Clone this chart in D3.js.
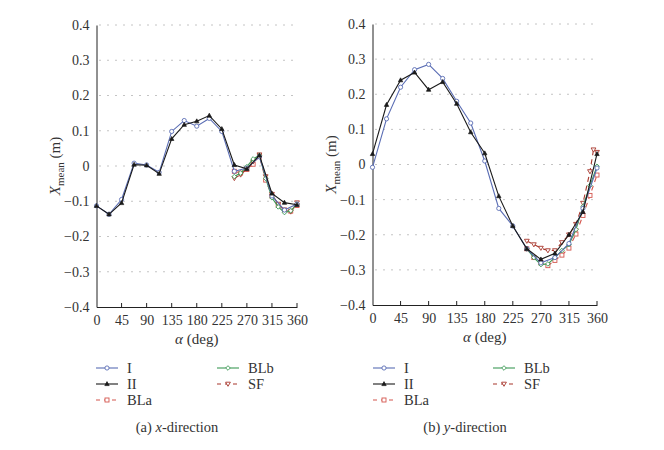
<!DOCTYPE html>
<html><head><meta charset="utf-8">
<script src="https://cdn.jsdelivr.net/npm/d3@7"></script>
<style>body{margin:0;background:#fff;} svg{display:block;}</style>
</head><body>
<svg id="chart" width="664" height="450"></svg>
<script>
// ---- Data ----
const xTicks = [0, 45, 90, 135, 180, 225, 270, 315, 360];
const yTicks = [-0.4, -0.3, -0.2, -0.1, 0, 0.1, 0.2, 0.3, 0.4];
const yTickLabels = ["\u22120.4", "\u22120.3", "\u22120.2", "\u22120.1", "0", "0.1", "0.2", "0.3", "0.4"];
const seriesNames = ["I", "II", "BLa", "BLb", "SF"];

const anglesMain = [0, 22.5, 45, 67.5, 90, 112.5, 135, 157.5, 180, 202.5, 225, 247.5, 270, 292.5, 315, 337.5, 360];
const anglesBL = [247.5, 258.75, 270, 281.25, 292.5, 303.75, 315, 326.25, 337.5, 348.75, 360];
const anglesSFy = [247.5, 258.75, 270, 281.25, 292.5, 303.75, 315, 326.25, 337.5, 348.75, 354.375, 360];

// (a) x-direction
const xdir_I   = [-0.113, -0.137, -0.095, 0.008, 0.003, -0.018, 0.098, 0.129, 0.113, 0.135, 0.098, -0.015, -0.006, 0.026, -0.085, -0.125, -0.108];
const xdir_II  = [-0.113, -0.137, -0.105, 0.004, 0.002, -0.022, 0.077, 0.117, 0.127, 0.143, 0.105, 0.003, -0.008, 0.030, -0.078, -0.104, -0.110];
const xdir_BLa = [-0.015, -0.020, -0.010, 0.005, 0.028, -0.040, -0.085, -0.112, -0.125, -0.128, -0.112];
const xdir_BLb = [-0.030, -0.020, -0.002, 0.020, 0.030, -0.035, -0.090, -0.116, -0.132, -0.127, -0.108];
const xdir_SF  = [-0.035, -0.025, -0.008, 0.012, 0.032, -0.030, -0.080, -0.108, -0.125, -0.130, -0.104];

// (b) y-direction
const ydir_I   = [-0.008, 0.130, 0.220, 0.270, 0.285, 0.245, 0.180, 0.118, 0.010, -0.125, -0.175, -0.240, -0.280, -0.265, -0.225, -0.125, -0.010];
const ydir_II  = [0.030, 0.170, 0.240, 0.262, 0.213, 0.235, 0.173, 0.092, 0.032, -0.090, -0.175, -0.240, -0.270, -0.253, -0.200, -0.135, 0.030];
const ydir_BLa = [-0.240, -0.265, -0.280, -0.288, -0.273, -0.258, -0.238, -0.198, -0.145, -0.088, -0.030];
const ydir_BLb = [-0.240, -0.265, -0.285, -0.283, -0.265, -0.245, -0.228, -0.185, -0.120, -0.060, -0.005];
const ydir_SF  = [-0.218, -0.228, -0.238, -0.245, -0.245, -0.222, -0.200, -0.170, -0.110, -0.020, 0.042, 0.035];

// ---- Styles ----
const styles = {
  "I":   {color: "#5a6db4", dash: null,  marker: "circle"},
  "II":  {color: "#1a1a1a", dash: null,  marker: "triangle"},
  "BLa": {color: "#d4564e", dash: "5,4", marker: "square"},
  "BLb": {color: "#3d9a56", dash: null,  marker: "diamond"},
  "SF":  {color: "#a8372c", dash: "5,4", marker: "triangleDown"}
};
const serif = "'Liberation Serif', 'DejaVu Serif', serif";
const svg = d3.select("#chart");

function marker(g, type, x, y, color) {
  const s = 2.3;
  if (type === "circle") {
    g.append("circle").attr("cx", x).attr("cy", y).attr("r", 2.1)
      .attr("fill", "#fff").attr("stroke", color).attr("stroke-width", 0.9);
  } else if (type === "triangle") {
    g.append("path").attr("d", `M${x},${y-2.4}L${x+2.2},${y+1.6}L${x-2.2},${y+1.6}Z`)
      .attr("fill", color).attr("stroke", color).attr("stroke-width", 0.7);
  } else if (type === "square") {
    g.append("rect").attr("x", x-2).attr("y", y-2).attr("width", 4).attr("height", 4)
      .attr("fill", "#fff").attr("stroke", color).attr("stroke-width", 0.9);
  } else if (type === "diamond") {
    g.append("path").attr("d", `M${x},${y-s}L${x+s},${y}L${x},${y+s}L${x-s},${y}Z`)
      .attr("fill", "#fff").attr("stroke", color).attr("stroke-width", 0.9);
  } else if (type === "triangleDown") {
    g.append("path").attr("d", `M${x-2.4},${y-1.8}L${x+2.4},${y-1.8}L${x},${y+2.3}Z`)
      .attr("fill", "#fff").attr("stroke", color).attr("stroke-width", 0.9);
  }
}

function panel(opts) {
  const {left, right, top, bottom, series, caption, dirLetter, legendX1, legendX2, labelX} = opts;
  const x = d3.scaleLinear().domain([0, 360]).range([left, right]);
  const y = d3.scaleLinear().domain([-0.4, 0.4]).range([bottom, top]);
  const g = svg.append("g");

  // gridlines
  g.selectAll(".grid").data(yTicks.filter(v => v > -0.4)).enter().append("line")
    .attr("x1", left + 3).attr("x2", right)
    .attr("y1", d => y(d)).attr("y2", d => y(d))
    .attr("stroke", "#888").attr("stroke-width", 1).attr("stroke-dasharray", "1,7");

  // y axis
  const yAxis = d3.axisLeft(y).tickValues(yTicks).tickSize(0).tickPadding(7)
    .tickFormat((d, i) => yTickLabels[i]);
  const ya = g.append("g").attr("transform", `translate(${left},0)`).call(yAxis);
  ya.select(".domain").attr("stroke", "#222").attr("stroke-width", 1);
  ya.selectAll("text").attr("font-family", serif).attr("font-size", 14).attr("fill", "#333");

  // x axis
  const xAxis = d3.axisBottom(x).tickValues(xTicks).tickSize(0).tickPadding(8).tickFormat(d3.format("d"));
  const xa = g.append("g").attr("transform", `translate(0,${bottom})`).call(xAxis);
  xa.select(".domain").attr("stroke", "#222").attr("stroke-width", 1);
  xa.selectAll("text").attr("font-family", serif).attr("font-size", 14).attr("fill", "#333");
  g.selectAll(".xt").data(xTicks.slice(1)).enter().append("line")
    .attr("x1", d => x(d)).attr("x2", d => x(d)).attr("y1", bottom).attr("y2", bottom - 4)
    .attr("stroke", "#222").attr("stroke-width", 1);

  // axis titles
  const yl = g.append("text").attr("transform", `translate(${labelX},${(top + bottom) / 2}) rotate(-90)`)
    .attr("text-anchor", "middle").attr("font-family", serif).attr("font-size", 15).attr("fill", "#333");
  yl.append("tspan").attr("font-style", "italic").text("X");
  yl.append("tspan").attr("font-size", 11).attr("dy", 4).text("mean");
  yl.append("tspan").attr("dy", -4).text(" (m)");

  const xl = g.append("text").attr("x", (left + right) / 2).attr("y", bottom + 37)
    .attr("text-anchor", "middle").attr("font-family", serif).attr("font-size", 15).attr("fill", "#333");
  xl.append("tspan").attr("font-style", "italic").text("\u03b1");
  xl.append("tspan").text(" (deg)");

  // series
  const line = d3.line().x(d => x(d[0])).y(d => y(d[1]));
  const order = ["BLa", "SF", "BLb", "I", "II"];
  order.forEach(name => {
    const s = series[name];
    const st = styles[name];
    const pts = s.angles.map((a, i) => [a, s.values[i]]);
    g.append("path").datum(pts).attr("d", line).attr("fill", "none")
      .attr("stroke", st.color).attr("stroke-width", 1.1)
      .attr("stroke-dasharray", st.dash);
    const mg = g.append("g");
    pts.forEach(p => marker(mg, st.marker, x(p[0]), y(p[1]), st.color));
  });

  // legend
  const rows = [["I", legendX1, 0], ["II", legendX1, 1], ["BLa", legendX1, 2], ["BLb", legendX2, 0], ["SF", legendX2, 1]];
  rows.forEach(([name, lx, r]) => {
    const st = styles[name];
    const ly = 368 + r * 16;
    g.append("line").attr("x1", lx).attr("x2", lx + 22).attr("y1", ly).attr("y2", ly)
      .attr("stroke", st.color).attr("stroke-width", 1.1).attr("stroke-dasharray", st.dash ? "4,4" : null);
    marker(g, st.marker, lx + 11, ly, st.color);
    g.append("text").attr("x", lx + 31).attr("y", ly + 5).attr("font-family", serif)
      .attr("font-size", 14.5).attr("fill", "#333").text(name);
  });

  // caption
  const cap = g.append("text").attr("x", opts.captionX).attr("y", 432).attr("text-anchor", "middle")
    .attr("font-family", serif).attr("font-size", 14.5).attr("fill", "#333");
  cap.append("tspan").text(caption + "  ");
  cap.append("tspan").attr("font-style", "italic").text(dirLetter);
  cap.append("tspan").text("-direction");
}

function mk(I, II, BLa, BLb, SF, sfAngles) {
  return {
    "I": {angles: anglesMain, values: I},
    "II": {angles: anglesMain, values: II},
    "BLa": {angles: anglesBL, values: BLa},
    "BLb": {angles: anglesBL, values: BLb},
    "SF": {angles: sfAngles, values: SF}
  };
}

panel({left: 96.5, right: 297, top: 25, bottom: 307,
  series: mk(xdir_I, xdir_II, xdir_BLa, xdir_BLb, xdir_SF, anglesBL),
  caption: "(a)", dirLetter: "x", captionX: 177, legendX1: 96, legendX2: 217, labelX: 60});
panel({left: 372.5, right: 597, top: 24, bottom: 305,
  series: mk(ydir_I, ydir_II, ydir_BLa, ydir_BLb, ydir_SF, anglesSFy),
  caption: "(b)", dirLetter: "y", captionX: 465, legendX1: 373, legendX2: 493, labelX: 336});
</script>
</body></html>
